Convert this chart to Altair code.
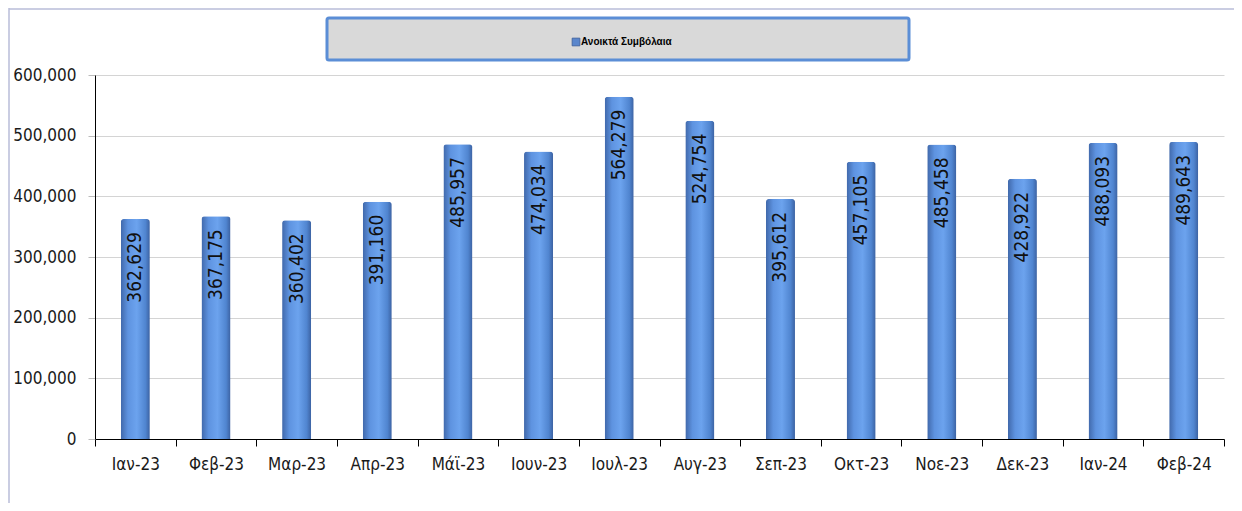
import altair as alt
import pandas as pd

months = ["Ιαν-23", "Φεβ-23", "Μαρ-23", "Απρ-23", "Μάϊ-23", "Ιουν-23", "Ιουλ-23",
          "Αυγ-23", "Σεπ-23", "Οκτ-23", "Νοε-23", "Δεκ-23", "Ιαν-24", "Φεβ-24"]
values = [362629, 367175, 360402, 391160, 485957, 474034, 564279,
          524754, 395612, 457105, 485458, 428922, 488093, 489643]
series_name = ["Ανοικτά Συμβόλαια"]
y_ticks = [0, 100000, 200000, 300000, 400000, 500000, 600000]

df = pd.DataFrame({"month": months, "value": values})
one = pd.DataFrame({"label": series_name})

W, H = 1129, 364
FONT = "DejaVu Sans Condensed, Liberation Sans, sans-serif"

x_enc = alt.X("month:N", sort=months, title=None,
              scale=alt.Scale(paddingInner=0, paddingOuter=0),
              axis=alt.Axis(labelAngle=0, tickBand="extent", tickSize=7, tickColor="#000",
                            domainColor="#000", labelFont=FONT, labelFontSize=17,
                            labelColor="#1a1a1a", labelPadding=10, grid=False))
y_enc = alt.Y("value:Q", title=None,
              scale=alt.Scale(domain=[0, 600000], nice=False),
              axis=alt.Axis(values=y_ticks, format=",d", tickSize=7, tickColor="#bbbbbb",
                            domainColor="#000", labelFont=FONT, labelFontSize=17,
                            labelColor="#1a1a1a", labelPadding=12, gridColor="#d4d4d4",
                            gridWidth=1))

grad = alt.Gradient(gradient="linear", x1=0, x2=1, y1=0, y2=0,
                    stops=[alt.GradientStop(color="#4068aa", offset=0),
                           alt.GradientStop(color="#5e93e0", offset=0.25),
                           alt.GradientStop(color="#6ca3ee", offset=0.55),
                           alt.GradientStop(color="#5085d0", offset=0.85),
                           alt.GradientStop(color="#3c62a2", offset=1)])

bars = alt.Chart(df).mark_bar(fill=grad, width=alt.RelativeBandSize(0.36),
                              cornerRadiusTopLeft=3, cornerRadiusTopRight=3).encode(
    x=x_enc, y=y_enc)

labels = alt.Chart(df).mark_text(angle=270, align="right", baseline="middle", dx=-13,
                                 font=FONT, fontSize=19, color="#111").encode(
    x=alt.X("month:N", sort=months),
    y=alt.Y("value:Q"),
    text=alt.Text("value:Q", format=",d"))

frame_top = alt.Chart(one).mark_rule(color="#b8bcd8", strokeWidth=1.5).encode(
    x=alt.value(-86), x2=alt.value(W + 10), y=alt.value(-66))
frame_left = alt.Chart(one).mark_rule(color="#b8bcd8", strokeWidth=1.5).encode(
    x=alt.value(-86), y=alt.value(-67), y2=alt.value(H + 64))

legend_box = alt.Chart(one).mark_rect(fill="#d9d9d9", stroke="#5b8ed6", strokeWidth=3,
                                      cornerRadius=2).encode(
    x=alt.value(232), x2=alt.value(814), y=alt.value(-57), y2=alt.value(-15))
legend_sym = alt.Chart(one).mark_square(size=60, fill="#5a86cc", stroke="#3d5f99",
                                        strokeWidth=0.8, opacity=1).encode(
    x=alt.value(481), y=alt.value(-33))
legend_txt = alt.Chart(one).mark_text(align="left", baseline="middle", font="Liberation Sans",
                                      fontSize=10, fontWeight="bold", color="#000").encode(
    x=alt.value(486), y=alt.value(-33), text="label:N")

chart = alt.layer(frame_top, frame_left, bars, labels, legend_box, legend_sym, legend_txt).properties(
    width=W, height=H,
    autosize=alt.AutoSizeParams(type="none"),
    padding={"left": 87, "top": 67, "right": 10, "bottom": 64},
    background="white"
).configure_view(stroke=None)

chart.save("out.html", embed_options={"renderer": "svg", "actions": False})
